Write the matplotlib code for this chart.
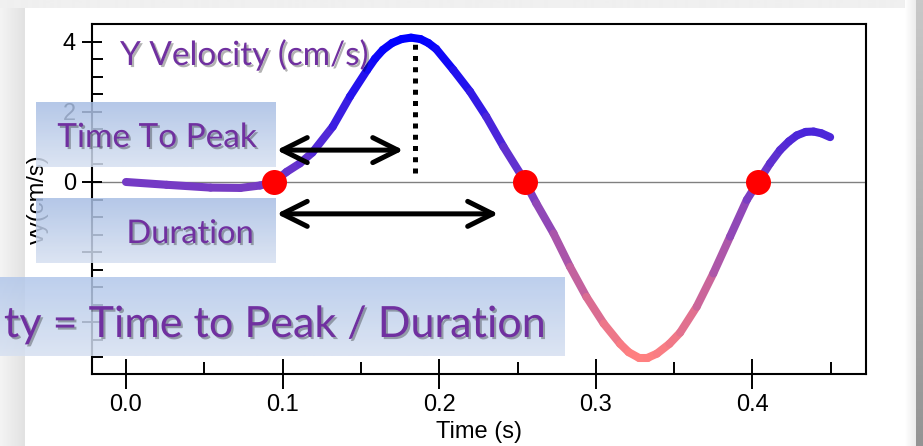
import numpy as np
import matplotlib.pyplot as plt
import matplotlib.patheffects as pe
from matplotlib.collections import LineCollection
from matplotlib.colors import LinearSegmentedColormap, Normalize

# Y velocity trace (time in s, velocity in cm/s)
time_s = [0.0, 0.026, 0.054, 0.073, 0.0856, 0.0945, 0.1026, 0.111, 0.119, 0.132,
          0.143, 0.154, 0.159, 0.164, 0.170, 0.176, 0.182, 0.188, 0.193, 0.198,
          0.209, 0.2197, 0.230, 0.241, 0.2516, 0.2548, 0.262, 0.273, 0.2835, 0.294,
          0.305, 0.3155, 0.321, 0.3275, 0.333, 0.339, 0.347, 0.3538, 0.3644, 0.375,
          0.3857, 0.3964, 0.4036, 0.4112, 0.4176, 0.4233, 0.4283, 0.434, 0.439,
          0.444, 0.4496]
vy_cm_s = [0.0, -0.08, -0.16, -0.17, -0.1, 0.0, 0.29, 0.53, 0.84, 1.58,
           2.44, 3.2, 3.52, 3.77, 3.97, 4.08, 4.12, 4.08, 3.97, 3.8,
           3.2, 2.58, 1.87, 1.01, 0.25, 0.0, -0.61, -1.47, -2.42, -3.28,
           -4.04, -4.62, -4.86, -5.02, -5.02, -4.9, -4.62, -4.3, -3.56, -2.61,
           -1.56, -0.51, 0.0, 0.53, 0.91, 1.16, 1.33, 1.43, 1.44,
           1.39, 1.28]

# zero crossings marked with red dots
cross_t = [0.0945, 0.2548, 0.4036]
cross_v = [0.0, 0.0, 0.0]

# peak marker (dotted line)
peak_t = 0.1845
peak_v = 4.1

# annotation arrows (time to peak / duration)
arrow_start = 0.0962
ttp_end = 0.1771
dur_end = 0.2377
ttp_level = 0.91
dur_level = -0.91

xticks = [0.0, 0.1, 0.2, 0.3, 0.4]
xtick_labels = ["0.0", "0.1", "0.2", "0.3", "0.4"]
xminor = [0.05, 0.15, 0.25, 0.35, 0.45]
yticks = [-4, -2, 0, 2, 4]
ytick_labels = ["", "", "0", "2", "4"]
yminor = np.arange(-5.0, 4.51, 0.5)

W, H = 923, 446
fig = plt.figure(figsize=(W / 100, H / 100), dpi=100)
fig.patch.set_facecolor("white")

# ---- main chart ----
ax = fig.add_axes([92 / W, (H - 374.3) / H, (865.7 - 92) / W, (374.3 - 24) / H])
ax.set_xlim(-0.0217, 0.4723)
ax.set_ylim(-5.49, 4.51)

ax.axhline(0, color="#808080", lw=1.0, zorder=1)

t = np.array(time_s)
v = np.array(vy_cm_s)
segs = np.stack([np.column_stack([t[:-1], v[:-1]]), np.column_stack([t[1:], v[1:]])], axis=1)
cmap = LinearSegmentedColormap.from_list("vel", [(1, 0.5, 0.5), (0, 0, 1)])
norm = Normalize(vmin=-5.0, vmax=4.1)
lc = LineCollection(segs, cmap=cmap, norm=norm, linewidths=5.8, capstyle="round", zorder=3)
lc.set_array((v[:-1] + v[1:]) / 2)
ax.add_collection(lc)

ax.plot([peak_t, peak_t], [0.25, peak_v - 0.05], color="black", lw=3.6,
        linestyle=(0, (1, 1.25)), dash_capstyle="butt", zorder=2)

ax.plot(cross_t, cross_v, "o", color="red", ms=18, mec="none", zorder=4)

for end, lev in [(ttp_end, ttp_level), (dur_end, dur_level)]:
    ax.annotate("", xy=(end, lev), xytext=(arrow_start, lev),
                arrowprops=dict(arrowstyle="<->,head_length=0.9,head_width=0.45",
                                lw=3.6, color="black", shrinkA=0, shrinkB=0,
                                mutation_scale=20, capstyle="round", joinstyle="round"),
                zorder=4)

ax.set_xticks(xticks)
ax.set_xticklabels(xtick_labels)
ax.set_xticks(xminor, minor=True)
ax.set_yticks(yticks)
ax.set_yticklabels(ytick_labels)
ax.set_yticks(yminor, minor=True)

for s in ax.spines.values():
    s.set_linewidth(1.5)
ax.tick_params(axis="x", which="major", direction="inout", length=21, width=1.4,
               labelsize=17, pad=4)
ax.tick_params(axis="y", which="major", direction="inout", length=15, width=1.4,
               labelsize=17, pad=4)
ax.tick_params(axis="x", which="minor", direction="in", length=9, width=1.4)
ax.tick_params(axis="y", which="minor", direction="in", length=8, width=1.4)
for lab in ax.get_xticklabels() + ax.get_yticklabels():
    lab.set_fontfamily("Liberation Sans")

ax.set_xlabel("Time (s)", fontsize=17, family="Liberation Sans", labelpad=3)
ax.set_ylabel("vy(cm/s)", fontsize=17, family="Liberation Sans")
ax.yaxis.set_label_coords(-0.0556, 0.5)

# ---- slide overlay (pixel coordinates) ----
ov = fig.add_axes([0, 0, 1, 1], zorder=10)
ov.set_axis_off()
ov.patch.set_alpha(0)


def grad(x0, x1, y0, y1, top, bottom, alpha, horizontal=False, z=1):
    n = 64
    f = np.linspace(0, 1, n)[:, None]
    c = np.array(top)[None, :] * (1 - f) + np.array(bottom)[None, :] * f
    img = np.concatenate([c / 255.0, np.full((n, 1), alpha)], axis=1)[:, None, :]
    if horizontal:
        img = img.transpose(1, 0, 2)
    ov.imshow(img, extent=(x0, x1, y1, y0), origin="upper", aspect="auto",
              interpolation="bilinear", zorder=z)


# slide edges
grad(0, 25, 0, H, (244, 244, 244), (226, 226, 226), 1.0, horizontal=True)
grad(0, W, 0, 8, (240, 240, 240), (240, 240, 240), 1.0)
grad(905, 916, 0, H, (255, 255, 255), (236, 236, 236), 1.0, horizontal=True)
grad(916, W, 0, H, (200, 200, 200), (148, 148, 148), 1.0)

# blue callout boxes
box_top = (168, 190, 228)
box_bot = (214, 224, 241)
grad(36, 276, 102, 167, box_top, box_bot, 0.85, z=2)
grad(36, 276, 198, 263, box_top, box_bot, 0.85, z=2)
grad(0, 565, 277, 356, (178, 199, 234), box_bot, 0.85, z=2)

ov.set_xlim(0, W)
ov.set_ylim(H, 0)

purple = "#7030A0"
shadow = [pe.SimplePatchShadow(offset=(1.5, -1.5), shadow_rgbFace="black", alpha=0.3),
          pe.Normal()]
ov.text(120, 65, "Y Velocity (cm/s)", fontsize=24, color=purple, family="Lato",
        ha="left", va="baseline", path_effects=shadow, zorder=3)
ov.text(157, 147, "Time To Peak", fontsize=24, color=purple, family="Lato",
        ha="center", va="baseline", path_effects=shadow, zorder=3)
ov.text(190, 243, "Duration", fontsize=23.5, color=purple, family="Lato",
        ha="center", va="baseline", path_effects=shadow, zorder=3)
ov.text(274, 337, "ty = Time to Peak / Duration", fontsize=31, color=purple,
        family="Lato", ha="center", va="baseline", path_effects=shadow, zorder=3)

fig.savefig("out.png", dpi=100)
